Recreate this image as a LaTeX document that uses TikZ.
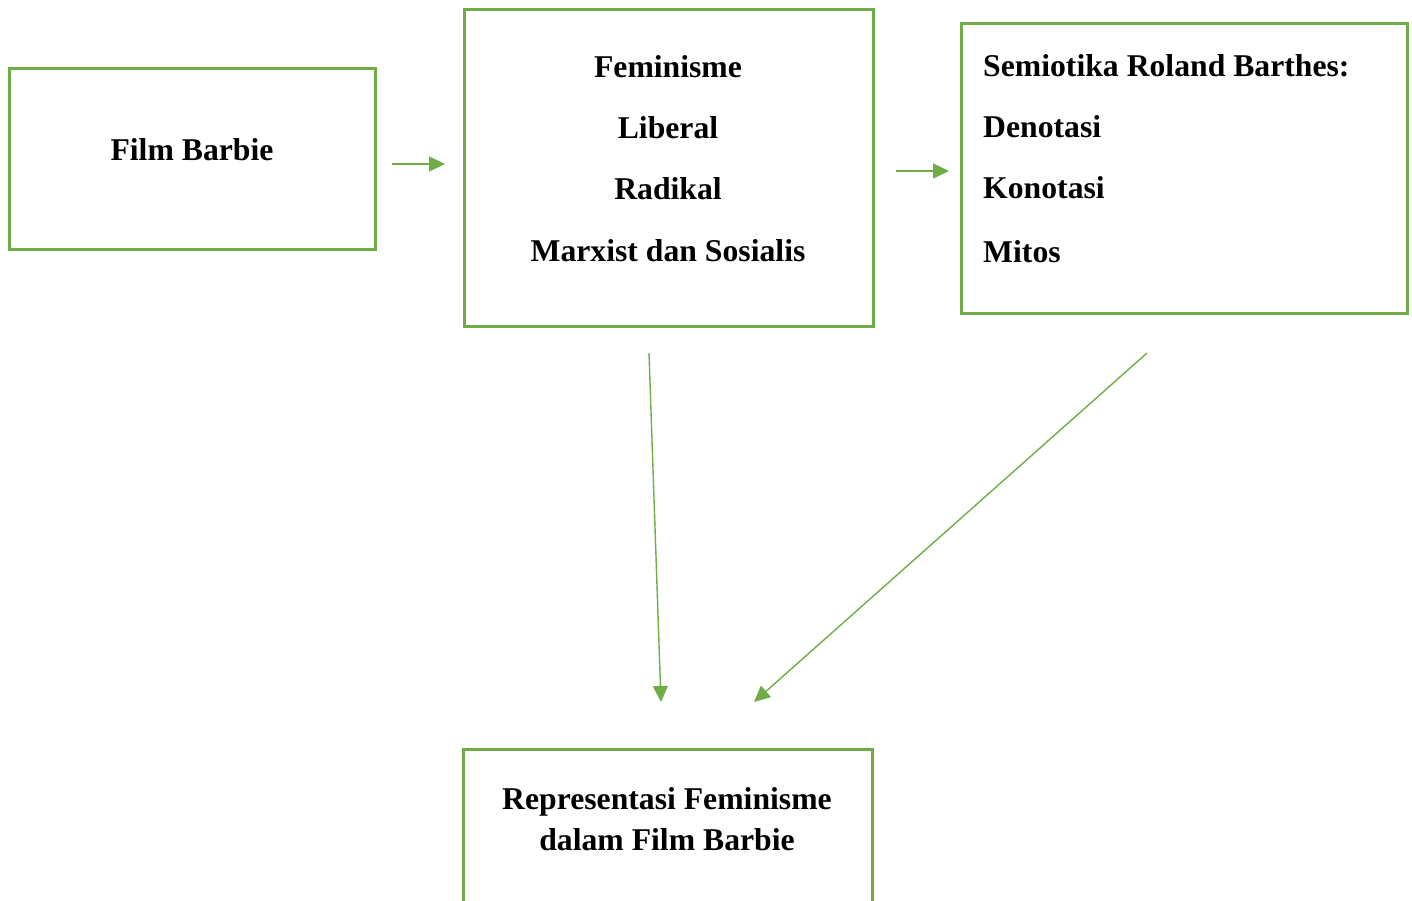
\documentclass[tikz,border=0pt]{standalone}
\usepackage{fontspec}
\setmainfont{Liberation Serif}
\usetikzlibrary{arrows.meta}
\definecolor{grn}{HTML}{70AD47}
\begin{document}
\begin{tikzpicture}[x=1pt,y=-1pt,
  box/.style={draw=grn,line width=3pt},
  lbl/.style={font=\fontsize{31.7}{38}\selectfont\bfseries,anchor=base,inner sep=0pt},
  lbll/.style={lbl,anchor=base west},
  arr/.style={draw=grn,line width=1.4pt,-{Triangle[length=16pt,width=15pt]}}]
\useasboundingbox (0,0) rectangle (1412,901);
\begin{scope}
\clip (0,0) rectangle (1412,901);
\draw[box] (9,69) rectangle (375,249);
\draw[box] (464,10) rectangle (873,326);
\draw[box] (961,24) rectangle (1407,313);
\draw[box] (463,749) rectangle (872,920);
\end{scope}
\node[lbl] (fb) at (192,161) {Film Barbie};
\node[lbl] (f1) at (668,77.5) {Feminisme};
\node[lbl] (f2) at (668,138.5) {Liberal};
\node[lbl] (f3) at (668,199.5) {Radikal};
\node[lbl] (f4) at (668,261.5) {Marxist dan Sosialis};
\node[lbll] (s1) at (983,77) {Semiotika Roland Barthes:};
\node[lbll] (s2) at (983,138) {Denotasi};
\node[lbll] (s3) at (983,199) {Konotasi};
\node[lbll] (s4) at (983,262) {Mitos};
\node[lbl] (r1) at (667,809) {Representasi Feminisme};
\node[lbl] (r2) at (667,850) {dalam Film Barbie};
\coordinate (a1) at (392,164);
\coordinate (a2) at (445,164);
\coordinate (b1) at (896,171);
\coordinate (b2) at (949,171);
\coordinate (c1) at (649,353);
\coordinate (c2) at (661,702);
\coordinate (d1) at (1147,353);
\coordinate (d2) at (754,702);
\draw[arr] (a1) -- (a2);
\draw[arr] (b1) -- (b2);
\draw[arr] (c1) -- (c2);
\draw[arr] (d1) -- (d2);
\end{tikzpicture}
\end{document}
